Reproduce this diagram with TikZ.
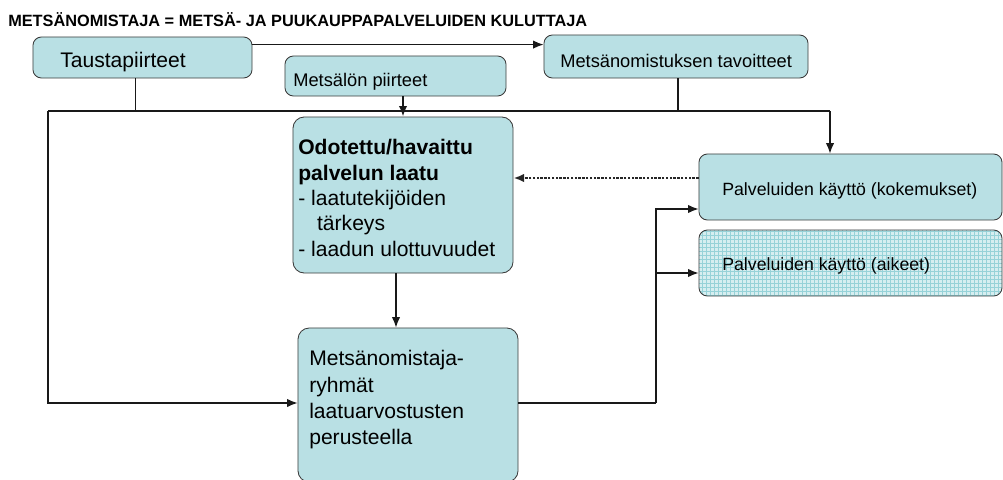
\documentclass[tikz,border=0pt]{standalone}
\usepackage{fontspec}
\setmainfont{Liberation Sans}
\usepackage{tikz}
\usetikzlibrary{calc, arrows.meta}
\tikzset{>={Latex[length=7.5pt,width=6pt]}}
\definecolor{sfill}{RGB}{185, 224, 228}
\definecolor{sline}{RGB}{60, 60, 60}
\definecolor{sgrid}{RGB}{150, 210, 216}
\definecolor{sgridbg}{RGB}{214, 238, 240}

\begin{document}
\begin{tikzpicture}[x=0.025cm, y=-0.025cm,
    box/.style={draw=sline, fill=sfill, line width=0.6pt, rounded corners=6pt, inner sep=0pt},
    big/.style={font=\fontsize{15}{18.1}\selectfont, inner sep=0pt, align=left},
    small/.style={font=\fontsize{13}{15}\selectfont, inner sep=0pt},
    use/.style={font=\fontsize{12.6}{14}\selectfont, inner sep=0pt},
    conn/.style={line width=0.9pt, black!90},
    dotconn/.style={line width=1.7pt, black!85, densely dotted}
  ]

  \clip (0,0) rectangle (1003,479);

  \node[anchor=base west, inner sep=0pt, font=\fontsize{11.6}{13}\selectfont\bfseries] (title) at (8,27)
    {METSÄNOMISTAJA = METSÄ- JA PUUKAUPPAPALVELUIDEN KULUTTAJA};

  % boxes
  \node[box, minimum width=5.475cm, minimum height=1.025cm] (taust) at (142.5,57.5) {};
  \node[box, minimum width=5.525cm, minimum height=1cm] (metsalo) at (395.5,76) {};
  \node[box, minimum width=6.6cm, minimum height=1.075cm] (tavoite) at (676,56.5) {};
  \node[box, rounded corners=8pt, minimum width=5.5cm, minimum height=3.9cm] (laatu) at (403,195) {};
  \node[box, rounded corners=8pt, minimum width=5.5cm, minimum height=3.85cm] (ryhma) at (408,405) {};
  \node[box, minimum width=7.575cm, minimum height=1.65cm] (koke) at (850.5,187) {};
  \node[box, fill=sgridbg, minimum width=7.575cm, minimum height=1.65cm,
        path picture={\draw[sgrid, line width=0.35pt, step=0.1cm]
          (path picture bounding box.south west) grid (path picture bounding box.north east);}] (aikeet) at (850.5,263) {};

  % texts
  \node[big, anchor=base west] (taust-t) at (60,67) {Taustapiirteet};
  \node[small, anchor=base west] (metsalo-t) at (293,87) {Metsälön piirteet};
  \node[small, anchor=base west] (tavoite-t) at (560,68) {Metsänomistuksen tavoitteet};
  \node[big, anchor=north west] (laatu-t) at (298,139)
    {\textbf{Odotettu/havaittu}\\ \textbf{palvelun laatu}\\ - laatutekijöiden\\ \hspace*{0.47cm}tärkeys\\ - laadun ulottuvuudet};
  \node[big, anchor=north west, font=\fontsize{15}{18.8}\selectfont] (ryhma-t) at (309,350)
    {Metsänomistaja-\\ ryhmät\\ laatuarvostusten\\ perusteella};
  \node[use, anchor=base west] (koke-t) at (722,195) {Palveluiden käyttö (kokemukset)};
  \node[use, anchor=base west] (aikeet-t) at (722,270) {Palveluiden käyttö (aikeet)};

  % connectors
  \coordinate (busL) at (48,111);
  \coordinate (busR) at (830,111);
  \coordinate (split) at (656,403);

  \draw[conn, ->] ($(taust.north east)+(0,8)$) coordinate (t1) -- (t1 -| tavoite.west);
  \draw[conn] ($(taust.south)+(-7,0)$) coordinate (t2) -- (t2 |- busL);
  \draw[conn] ($(tavoite.south)+(2,0)$) coordinate (t3) -- (t3 |- busL);
  \draw[conn] (busL) -- (busR);
  \draw[conn, ->] (busR) -- (busR |- koke.north);
  \draw[conn, ->] (busL) |- (ryhma.west |- split);
  \draw[conn, line width=1.3pt, ->] (laatu.north |- metsalo.south) -- (laatu.north);
  \draw[conn, ->] ($(laatu.south)+(-7,0)$) coordinate (t4) -- (t4 |- ryhma.north);
  \draw[dotconn, ->] ($(koke.west)+(0,-9)$) coordinate (t5) -- (t5 -| laatu.east);
  \draw[conn] (ryhma.east |- split) -- (split);
  \draw[conn, ->] (split) |- ($(koke.west)+(0,22)$);
  \draw[conn, ->] (split) |- ($(aikeet.west)+(0,10)$);

\end{tikzpicture}
\end{document}
